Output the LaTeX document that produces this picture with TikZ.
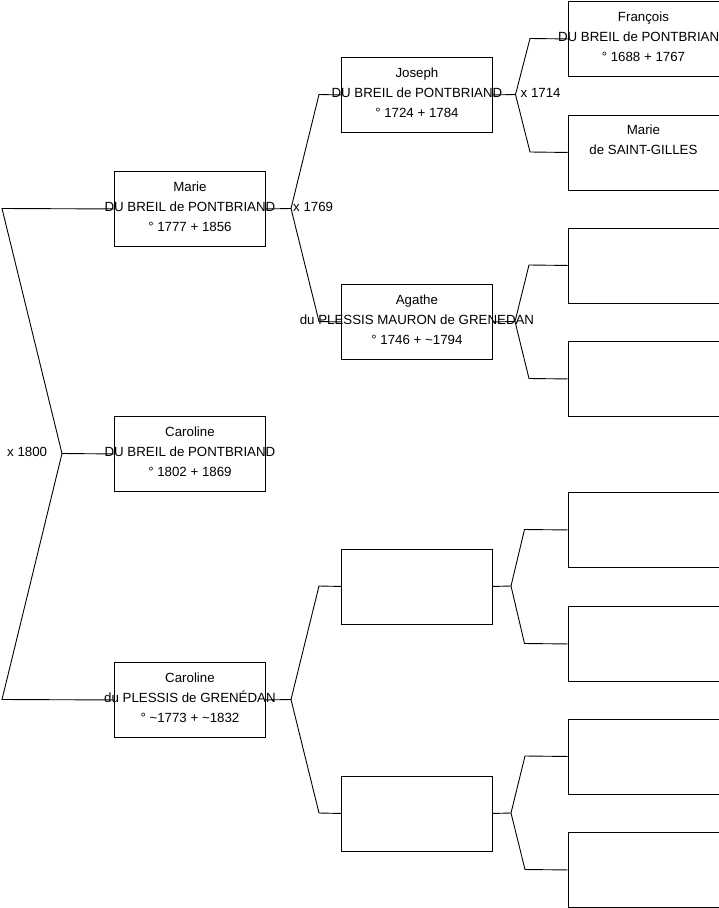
\documentclass[tikz,border=0pt]{standalone}
\usepackage{fontspec}
\setmainfont{Liberation Sans}
\begin{document}
\begin{tikzpicture}[x=1pt,y=-1pt,
  person/.style={draw=black, line width=0.9pt, minimum width=151pt, minimum height=75pt, inner sep=0pt, anchor=north west},
  ptext/.style={anchor=north, inner sep=0pt, align=center, font=\fontsize{13.3}{20}\selectfont, execute at begin node={\rule{0pt}{11pt}}},
  link/.style={draw=black, line width=0.9pt},
  marr/.style={anchor=west, inner sep=0pt, font=\fontsize{13.3}{16}\selectfont}]
\useasboundingbox (0,0) rectangle (719,908);
% generation 1
\node[person] (A) at (114,171) {};
\node[person] (B) at (114,416) {};
\node[person] (C) at (114,662) {};
% generation 2
\node[person] (D) at (341,57) {};
\node[person] (E) at (341,284) {};
\node[person] (F) at (341,548.5) {};
\node[person] (G) at (341,775.5) {};
% generation 3
\node[person] (H) at (567.5,1) {};
\node[person] (I) at (567.5,114.5) {};
\node[person] (J) at (567.5,227.5) {};
\node[person] (K) at (567.5,341) {};
\node[person] (L) at (567.5,492) {};
\node[person] (M) at (567.5,606) {};
\node[person] (N) at (567.5,718.5) {};
\node[person] (O) at (567.5,832) {};
% texts
\node[ptext] (tA) at ([yshift=-10.5pt]A.north) {Marie\\DU BREIL de PONTBRIAND\\° 1777 + 1856};
\node[ptext] (tB) at ([yshift=-10.5pt]B.north) {Caroline\\DU BREIL de PONTBRIAND\\° 1802 + 1869};
\node[ptext] (tC) at ([yshift=-10.5pt]C.north) {Caroline\\du PLESSIS de GRENÉDAN\\° \textasciitilde1773 + \textasciitilde1832};
\node[ptext] (tD) at ([yshift=-10.5pt]D.north) {Joseph\\DU BREIL de PONTBRIAND\\° 1724 + 1784};
\node[ptext] (tE) at ([yshift=-10.5pt]E.north) {Agathe\\du PLESSIS MAURON de GRENEDAN\\° 1746 + \textasciitilde1794};
\node[ptext] (tH) at ([yshift=-10.5pt]H.north) {François\\DU BREIL de PONTBRIAND\\° 1688 + 1767};
\node[ptext] (tI) at ([yshift=-10.5pt]I.north) {Marie\\de SAINT-GILLES};
% junction points
\coordinate (cA) at (2,208.5);
\coordinate (j0) at (62,453.5);
\coordinate (cC) at (2,699.5);
\coordinate (jA) at (291,208.5);
\coordinate (cD) at (319,94.5);
\coordinate (cE) at (319,321.5);
\coordinate (jC) at (291,699.5);
\coordinate (cF) at (319,586);
\coordinate (cG) at (319,813);
\coordinate (jD) at (515.5,94.5);
\coordinate (cH) at (530,38.5);
\coordinate (cI) at (530,152);
\coordinate (jE) at (515,321.5);
\coordinate (cJ) at (529,265);
\coordinate (cK) at (529,378.5);
\coordinate (jF) at (511,586);
\coordinate (cL) at (524.5,529.5);
\coordinate (cM) at (524.5,643.5);
\coordinate (jG) at (511,813);
\coordinate (cN) at (525,756);
\coordinate (cO) at (525,869.5);
% connectors
\draw[link] (A.west) -- (cA) -- (j0) -- (cC) -- (C.west);
\draw[link] (j0) -- (B.west);
\draw[link] (A.east) -- (jA);
\draw[link] (D.west) -- (cD) -- (jA) -- (cE) -- (E.west);
\draw[link] (C.east) -- (jC);
\draw[link] (F.west) -- (cF) -- (jC) -- (cG) -- (G.west);
\draw[link] (D.east) -- (jD);
\draw[link] (H.west) -- (cH) -- (jD) -- (cI) -- (I.west);
\draw[link] (E.east) -- (jE);
\draw[link] (J.west) -- (cJ) -- (jE) -- (cK) -- (K.west);
\draw[link] (F.east) -- (jF);
\draw[link] (L.west) -- (cL) -- (jF) -- (cM) -- (M.west);
\draw[link] (G.east) -- (jG);
\draw[link] (N.west) -- (cN) -- (jG) -- (cO) -- (O.west);
% marriage labels
\node[marr] (m1800) at (7,451.5) {x 1800};
\node[marr] (m1769) at (293,207) {x 1769};
\node[marr] (m1714) at (520.5,92.5) {x 1714};
\end{tikzpicture}
\end{document}
